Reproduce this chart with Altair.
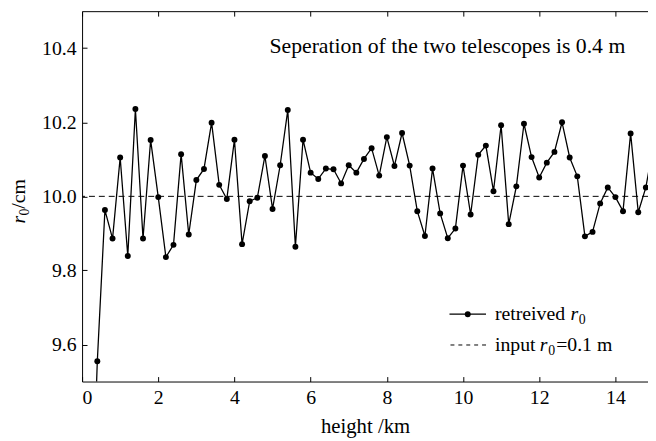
import altair as alt
import pandas as pd

heights = [0.2, 0.4, 0.6, 0.8, 1.0, 1.2, 1.4, 1.6, 1.8, 2.0,
           2.2, 2.4, 2.6, 2.8, 3.0, 3.2, 3.4, 3.6, 3.8, 4.0,
           4.2, 4.4, 4.6, 4.8, 5.0, 5.2, 5.4, 5.6, 5.8, 6.0,
           6.2, 6.4, 6.6, 6.8, 7.0, 7.2, 7.4, 7.6, 7.8, 8.0,
           8.2, 8.4, 8.6, 8.8, 9.0, 9.2, 9.4, 9.6, 9.8, 10.0,
           10.2, 10.4, 10.6, 10.8, 11.0, 11.2, 11.4, 11.6, 11.8, 12.0,
           12.2, 12.4, 12.6, 12.8, 13.0, 13.2, 13.4, 13.6, 13.8, 14.0,
           14.2, 14.4, 14.6, 14.8, 15.0]
r0_values = [8.95, 9.555, 9.963, 9.886, 10.105, 9.839, 10.236, 9.886, 10.152, 9.998,
             9.836, 9.869, 10.114, 9.897, 10.044, 10.074, 10.199, 10.031, 9.993, 10.153,
             9.871, 9.987, 9.996, 10.109, 9.966, 10.084, 10.233, 9.864, 10.153, 10.064,
             10.047, 10.075, 10.073, 10.035, 10.084, 10.064, 10.101, 10.130, 10.056, 10.160,
             10.082, 10.171, 10.083, 9.960, 9.893, 10.075, 9.954, 9.887, 9.913, 10.083,
             9.951, 10.112, 10.137, 10.014, 10.192, 9.925, 10.027, 10.196, 10.106, 10.051,
             10.091, 10.120, 10.200, 10.105, 10.054, 9.892, 9.904, 9.981, 10.024, 9.998,
             9.960, 10.170, 9.957, 10.024, 10.14]
x_ticks = [0, 2, 4, 6, 8, 10, 12, 14]
y_ticks = [9.6, 9.8, 10.0, 10.2, 10.4]
input_r0 = [10.0]
annotation = "Seperation of the two telescopes is 0.4 m"

FONT = "Liberation Serif"
FS = 20
SUB = 14
W, H = 573, 375

df = pd.DataFrame({"height": heights, "r0": r0_values})
one = pd.DataFrame({"k": [0]})

x_scale = alt.Scale(domain=[0, 14.856], nice=False, zero=False)
y_scale = alt.Scale(domain=[9.5, 10.5], nice=False, zero=False)
inward = alt.ExprRef(expr="-5")

line = alt.Chart(df).mark_line(color="black", strokeWidth=1.3, clip=True).encode(
    x=alt.X("height:Q", scale=x_scale,
            axis=alt.Axis(orient="bottom", values=x_ticks, title="height /km",
                          tickSize=inward, labelPadding=11, titlePadding=9,
                          titleFontSize=21)),
    y=alt.Y("r0:Q", scale=y_scale,
            axis=alt.Axis(values=y_ticks, format=".1f", title=None,
                          tickSize=inward, labelPadding=11)),
)

points = alt.Chart(df).mark_point(filled=True, color="black", size=36, opacity=1, clip=True).encode(
    x=alt.X("height:Q", scale=x_scale,
            axis=alt.Axis(orient="top", values=x_ticks, labels=False, title=None,
                          tickSize=inward)),
    y=alt.Y("r0:Q", scale=y_scale, axis=None),
)

ref = alt.Chart(pd.DataFrame({"y": input_r0})).mark_rule(
    color="black", strokeWidth=1, strokeDash=[6, 4]
).encode(y=alt.Y("y:Q", scale=y_scale, axis=None))


def txt(t, x, y, size=FS, style="normal", angle=0, align="left"):
    return alt.Chart(one).mark_text(
        text=t, font=FONT, fontSize=size, fontStyle=style, align=align,
        baseline="middle", color="black", angle=angle
    ).encode(x=alt.value(x), y=alt.value(y))


note = txt(annotation, 550, 35, size=22, align="right")

# legend
R1, R2 = 306.8, 338
lg1_line = alt.Chart(one).mark_rule(color="black", strokeWidth=1.3).encode(
    x=alt.value(372), x2=alt.value(409), y=alt.value(R1))
lg1_dot = alt.Chart(one).mark_point(filled=True, color="black", size=36, opacity=1).encode(
    x=alt.value(390.5), y=alt.value(R1))
lg2_line = alt.Chart(one).mark_rule(color="black", strokeWidth=1, strokeDash=[4, 4]).encode(
    x=alt.value(373), x2=alt.value(409), y=alt.value(R2))

lg1_a = txt("retreived", 418, R1)
lg1_r = txt("r", 494.5, R1, style="italic")
lg1_0 = txt("0", 503, R1 + 6, size=SUB)
lg2_a = txt("input", 418, R2)
lg2_r = txt("r", 463.5, R2, style="italic")
lg2_0 = txt("0", 472, R2 + 6, size=SUB)
lg2_b = txt("=0.1 m", 480, R2)

# y title
yt_r = txt("r", -64, 215, style="italic", angle=270)
yt_0 = txt("0", -58, 207, size=SUB, angle=270)
yt_b = txt(" /cm", -64, 200, angle=270)

chart = alt.layer(
    ref, line, points, note,
    lg1_line, lg1_dot, lg2_line, lg1_a, lg1_r, lg1_0, lg2_a, lg2_r, lg2_0, lg2_b,
    yt_r, yt_0, yt_b,
).resolve_axis(x="independent", y="independent").properties(
    width=W, height=H,
    padding={"left": 75, "top": 0.5, "right": 0, "bottom": 57},
    autosize=alt.AutoSizeParams(type="none"),
    background="white",
).configure_view(strokeWidth=0).configure_axis(
    domainColor="black", tickColor="black", labelColor="black", titleColor="black",
    labelFont=FONT, titleFont=FONT, labelFontSize=FS, titleFontSize=FS,
    titleFontWeight="normal", grid=False, domainWidth=1, tickWidth=1,
)

chart.save("out.html", embed_options={"renderer": "svg", "actions": False})
